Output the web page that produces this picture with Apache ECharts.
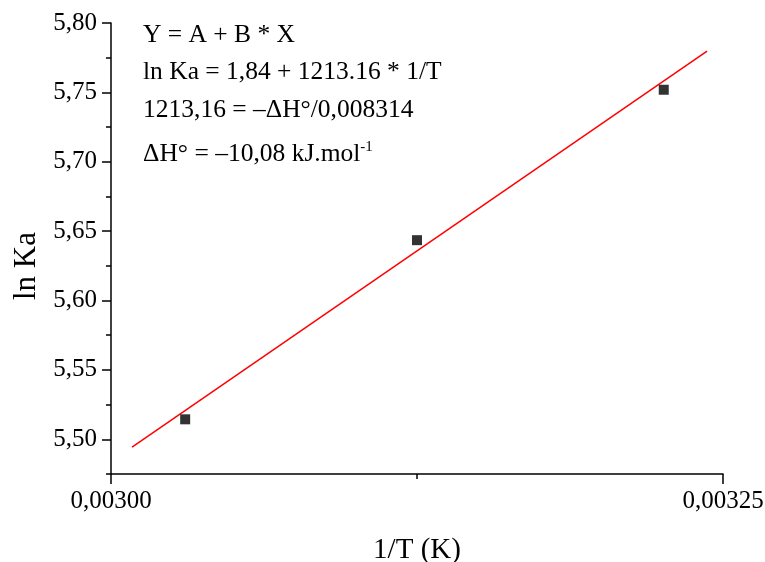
<!DOCTYPE html>
<html>
<head>
<meta charset="utf-8">
<script src="https://cdn.jsdelivr.net/npm/echarts@6/dist/echarts.min.js"></script>
<style>
  html, body { margin: 0; padding: 0; background: #fff; }
  #chart { width: 765px; height: 562px; }
</style>
</head>
<body>
<div id="chart"></div>
<script>
// 数据点 1/T 与 ln Ka
var invT = [0.0030303, 0.003125, 0.0032258];
var lnKa = [5.5144, 5.6435, 5.7519];

// 拟合直线两端
var fitX = [0.0030086, 0.0032435];
var fitY = [5.4944, 5.7798];

// 刻度
var yTicks = [5.50, 5.55, 5.60, 5.65, 5.70, 5.75, 5.80];
var yMinorTicks = [5.475, 5.525, 5.575, 5.625, 5.675, 5.725, 5.775];
var xTicks = [0.00300, 0.00325];

// 图内文字
var noteLines = [
  'Y = A + B * X',
  'ln Ka = 1,84 + 1213.16 * 1/T',
  '1213,16 = \u2013\u0394H\u00B0/0,008314',
  '{n|\u0394H\u00B0 = \u201310,08 kJ.mol}{s|-1}'
];
var noteY = [37, 74, 112, 155];

var myChart = echarts.init(document.getElementById('chart'));

var font = 'Liberation Serif, Times New Roman, serif';

function comma(v, d) {
  return v.toFixed(d).replace('.', ',');
}

var scatterData = invT.map(function (x, i) { return [x, lnKa[i]]; });
var lineData = fitX.map(function (x, i) { return [x, fitY[i]]; });

var graphics = noteLines.map(function (t, i) {
  return {
    type: 'text',
    left: 143,
    top: noteY[i] - 15,
    style: {
      text: t,
      font: '25.5px ' + font,
      fill: '#000',
      rich: {
        n: { fontSize: 25.5, fontFamily: font, color: '#000' },
        s: { fontSize: 15, fontFamily: font, color: '#000', verticalAlign: 'top', padding: [0, 0, 14, 0] }
      }
    }
  };
});

var option = {
  animation: false,
  backgroundColor: '#fff',

  grid: {
    left: 111,
    right: 42,
    top: 23,
    bottom: 88,
    containLabel: false,
    outerBoundsMode: 'none'
  },

  xAxis: {
    type: 'value',
    min: 0.003,
    max: 0.00325,
    interval: 0.00025,
    name: '1/T (K)',
    nameLocation: 'middle',
    nameGap: 62,
    nameTextStyle: { fontFamily: font, fontSize: 29, color: '#000' },
    axisLine: { show: true, lineStyle: { color: '#000', width: 1.5 } },
    axisTick: { show: true, length: 10, lineStyle: { color: '#000', width: 1.5 }, customValues: xTicks },
    minorTick: { show: true, splitNumber: 2, length: 5, lineStyle: { color: '#000', width: 1.5 } },
    axisLabel: {
      customValues: xTicks,
      margin: 15,
      fontFamily: font,
      fontSize: 25,
      color: '#000',
      formatter: function (v) { return comma(v, 5); }
    },
    splitLine: { show: false }
  },

  yAxis: [{
    type: 'value',
    min: 5.475,
    max: 5.80,
    name: 'ln Ka',
    nameLocation: 'middle',
    nameGap: 67,
    nameTextStyle: { fontFamily: font, fontSize: 31, color: '#000', padding: [0, 35, 0, 0] },
    axisLine: { show: true, lineStyle: { color: '#000', width: 1.5 } },
    axisTick: { show: true, length: 9, lineStyle: { color: '#000', width: 1.5 }, customValues: yTicks },
    axisLabel: {
      customValues: yTicks,
      margin: 14,
      fontFamily: font,
      fontSize: 25,
      color: '#000',
      formatter: function (v) { return comma(v, 2); }
    },
    splitLine: { show: false }
  }, {
    type: 'value',
    min: 5.475,
    max: 5.80,
    position: 'left',
    axisLine: { show: false },
    axisTick: { show: true, length: 5, lineStyle: { color: '#000', width: 1.5 }, customValues: yMinorTicks },
    axisLabel: { show: false },
    splitLine: { show: false }
  }],

  series: [{
    type: 'line',
    data: lineData,
    showSymbol: false,
    symbol: 'none',
    lineStyle: { color: '#ff0000', width: 1.5 },
    z: 2
  }, {
    type: 'scatter',
    data: scatterData,
    symbol: 'rect',
    symbolSize: 10,
    itemStyle: { color: '#000' },
    z: 3
  }],

  graphic: graphics
};

myChart.setOption(option);
</script>
</body>
</html>
